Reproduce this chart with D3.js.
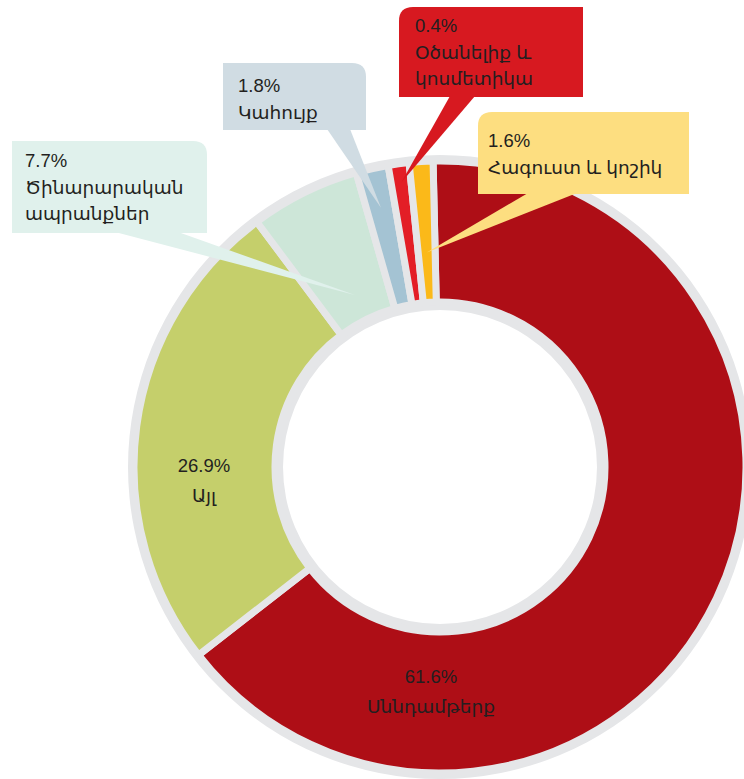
<!DOCTYPE html>
<html>
<head>
<meta charset="utf-8">
<script src="https://cdn.jsdelivr.net/npm/d3@7"></script>
<style>
  body { margin: 0; background: #fff; }
  svg text { font-family: "Liberation Sans", "DejaVu Sans", Arial, sans-serif; fill: #231f20; }
</style>
</head>
<body>
<div id="chart"></div>
<script>
// categories, clockwise from 12 o'clock
const categories = ["Սննդամթերք", "Այլ", "Ծինարարական ապրանքներ", "Կահույք", "Օծանելիք և կոսմետիկա", "Հագուստ և կոշիկ"];
// printed percentages
const percents = [61.6, 26.9, 7.7, 1.8, 0.4, 1.6];
// share of the ring each slice takes in the picture (small slices are enlarged)
const arcShares = [64.8, 25.3, 5.8, 1.7, 1.1, 1.25];
const colors = ["#ae0e16", "#c5cf6b", "#cde6d8", "#a4c3d3", "#e31e26", "#fbb919"];

const width = 744, height = 779;
const cx = 440, cy = 467;
const rInner = 165, rOuter = 306;
const grey = "#e5e6e8";

const svg = d3.select("#chart")
  .append("svg")
  .attr("width", width)
  .attr("height", height);

const data = categories.map((c, i) => ({name: c, pct: percents[i], share: arcShares[i], color: colors[i]}));

const pie = d3.pie()
  .value(d => d.share)
  .sort(null)
  .startAngle(-1.3 * Math.PI / 180)
  .endAngle(2 * Math.PI - 1.3 * Math.PI / 180);

const arcs = pie(data);

const g = svg.append("g").attr("transform", `translate(${cx},${cy})`);

// grey ring behind the slices
g.append("path")
  .attr("d", d3.arc().innerRadius(rInner - 8).outerRadius(rOuter + 6)({startAngle: 0, endAngle: 2 * Math.PI}))
  .attr("fill", grey);

const arc = d3.arc().innerRadius(rInner).outerRadius(rOuter);

g.selectAll("path.slice")
  .data(arcs)
  .enter()
  .append("path")
  .attr("class", "slice")
  .attr("d", arc)
  .attr("fill", d => d.data.color)
  .attr("stroke", grey)
  .attr("stroke-width", 7)
  .attr("stroke-linejoin", "miter");

// labels inside the two big slices
const inside = [
  {i: 0, x: -9, y: 216},
  {i: 1, x: -236, y: 5}
];
inside.forEach(l => {
  const t = g.append("text")
    .attr("text-anchor", "middle")
    .style("font-size", "18.5px");
  t.append("tspan").attr("x", l.x).attr("y", l.y).text(percents[l.i].toFixed(1) + "%");
  t.append("tspan").attr("x", l.x).attr("y", l.y + 30).text(categories[l.i]);
});

// callout boxes for the small slices
const callouts = [
  {i: 2, box: [12, 141, 207, 233], round: "tr", base: [115, 178, 233], tipR: 192, fill: "#e0f1ec",
   lines: ["Ծինարարական", "ապրանքներ"], tx: 25, ty: 167},
  {i: 3, box: [223, 63, 366, 130], round: "tr", base: [327, 350, 130], tipR: 266, fill: "#d0dce3",
   lines: ["Կահույք"], tx: 238, ty: 92},
  {i: 4, box: [399, 7, 583, 97], round: "tl", base: [450, 475, 97], tipR: 287, fill: "#d71920",
   lines: ["Օծանելիք և", "կոսմետիկա"], tx: 415, ty: 32},
  {i: 5, box: [478, 112, 689, 194], round: "tl", base: [528, 577, 194], tipR: 215, fill: "#fdde80",
   lines: ["Հագուստ և կոշիկ"], tx: 488, ty: 147}
];

function boxPath(b, round) {
  const [x0, y0, x1, y1] = b, r = 14;
  if (round === "tr") {
    return `M${x0},${y0}H${x1 - r}Q${x1},${y0} ${x1},${y0 + r}V${y1}H${x0}Z`;
  }
  return `M${x0 + r},${y0}H${x1}V${y1}H${x0}V${y0 + r}Q${x0},${y0} ${x0 + r},${y0}Z`;
}

callouts.forEach(c => {
  const a = arcs[c.i];
  const mid = (a.startAngle + a.endAngle) / 2;
  const tip = [cx + c.tipR * Math.sin(mid), cy - c.tipR * Math.cos(mid)];

  svg.append("path")
    .attr("d", `M${c.base[0]},${c.base[2] - 1}L${tip[0]},${tip[1]}L${c.base[1]},${c.base[2] - 1}Z`)
    .attr("fill", c.fill);

  svg.append("path")
    .attr("d", boxPath(c.box, c.round))
    .attr("fill", c.fill);

  const t = svg.append("text").style("font-size", "18.5px");
  t.append("tspan").attr("x", c.tx).attr("y", c.ty).text(percents[c.i].toFixed(1) + "%");
  c.lines.forEach((line, k) => {
    t.append("tspan").attr("x", c.tx).attr("y", c.ty + 26.5 * (k + 1)).text(line);
  });
});
</script>
</body>
</html>
